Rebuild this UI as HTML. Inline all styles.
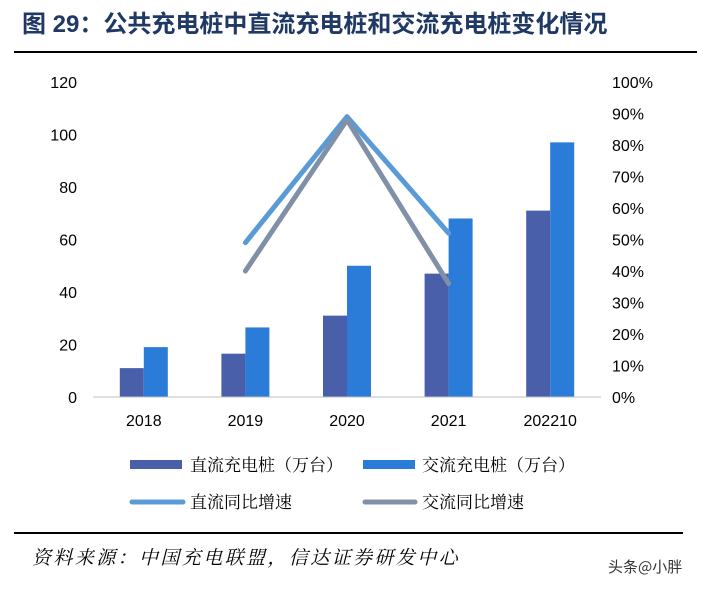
<!DOCTYPE html>
<html><head><meta charset="utf-8"><style>
body{margin:0;background:#fff;width:709px;height:590px;overflow:hidden;font-family:"Liberation Sans","Noto Sans CJK SC",sans-serif}
.serif{font-family:"Liberation Serif","Noto Serif CJK SC","Noto Sans CJK SC",serif}
</style></head><body>
<svg width="709" height="590" xmlns="http://www.w3.org/2000/svg">
<text x="22" y="32" font-size="24" font-weight="bold" fill="#1F3864" style="font-family:'Liberation Sans','Noto Sans CJK SC',sans-serif">图 29：公共充电桩中直流充电桩和交流充电桩变化情况</text>
<line x1="14" y1="52" x2="697" y2="52" stroke="#000" stroke-width="2"/>
<g id="plot"></g>
<g font-size="17" class="serif" fill="#000">
<rect x="130" y="460" width="52" height="9" fill="#4A5FAA"/>
<text x="190" y="471">直流充电桩（万台）</text>
<rect x="363" y="460" width="52" height="9" fill="#2B7BD8"/>
<text x="422" y="471">交流充电桩（万台）</text>
<line x1="132" y1="502" x2="183" y2="502" stroke="#5B9BD5" stroke-width="5" stroke-linecap="round"/>
<text x="190" y="508">直流同比增速</text>
<line x1="365" y1="502" x2="415" y2="502" stroke="#8090A8" stroke-width="5" stroke-linecap="round"/>
<text x="422" y="508">交流同比增速</text>
</g>
<line x1="14" y1="533" x2="683" y2="533" stroke="#000" stroke-width="2"/>
<text x="32" y="564" font-size="19" letter-spacing="2.4" font-style="italic" class="serif">资料来源：中国充电联盟，信达证券研发中心</text>
<text x="608" y="572" font-size="15" fill="#333" style="font-family:'Noto Sans CJK SC',sans-serif">头条@小胖</text>
</svg>
<script>
const categories=["2018","2019","2020","2021","202210"];
const dcValues=[11,16.5,31,47,71];
const acValues=[19,26.5,50,68,97];
const dcGrowth=[null,49,89,52,null];
const acGrowth=[null,40,88,36,null];
const leftTicks=[0,20,40,60,80,100,120];
const rightTicks=[0,10,20,30,40,50,60,70,80,90,100];
const NS="http://www.w3.org/2000/svg";
const g=document.getElementById('plot');
const y0=397,yTop=82,x0=93,step=101.6;
const yL=v=>y0-(v/120)*(y0-yTop);
const yR=v=>y0-(v/100)*(y0-yTop);
const xC=i=>x0+step*(i+0.5);
function mk(t,a){const e=document.createElementNS(NS,t);for(const k in a)e.setAttribute(k,a[k]);g.appendChild(e);return e;}
leftTicks.forEach(v=>{const t=mk('text',{x:77,y:yL(v)+6,'text-anchor':'end','font-size':16});t.textContent=v;

});
rightTicks.forEach(v=>{const t=mk('text',{x:612,y:yR(v)+6,'font-size':16});t.textContent=v+'%';

});
categories.forEach((c,i)=>{
const b1=mk('rect',{x:xC(i)-24,y:yL(dcValues[i]),width:24,height:y0-yL(dcValues[i]),fill:'#4A5FAA'});


const b2=mk('rect',{x:xC(i),y:yL(acValues[i]),width:24,height:y0-yL(acValues[i]),fill:'#2B7BD8'});


const t=mk('text',{x:xC(i),y:426,'text-anchor':'middle','font-size':16});t.textContent=c;


});
const ax=mk('line',{x1:x0,y1:y0,x2:x0+step*5,y2:y0,stroke:'#BFBFBF','stroke-width':1});


function line(arr,color,name){const pts=[];arr.forEach((v,i)=>{if(v!==null)pts.push(xC(i)+','+yR(v));});
const p=mk('polyline',{points:pts.join(' '),fill:'none',stroke:color,'stroke-width':5,'stroke-linejoin':'round','stroke-linecap':'round'});

}
line(dcGrowth,'#5B9BD5','dc-growth-line');
line(acGrowth,'#8090A8','ac-growth-line');
</script>
</body></html>
